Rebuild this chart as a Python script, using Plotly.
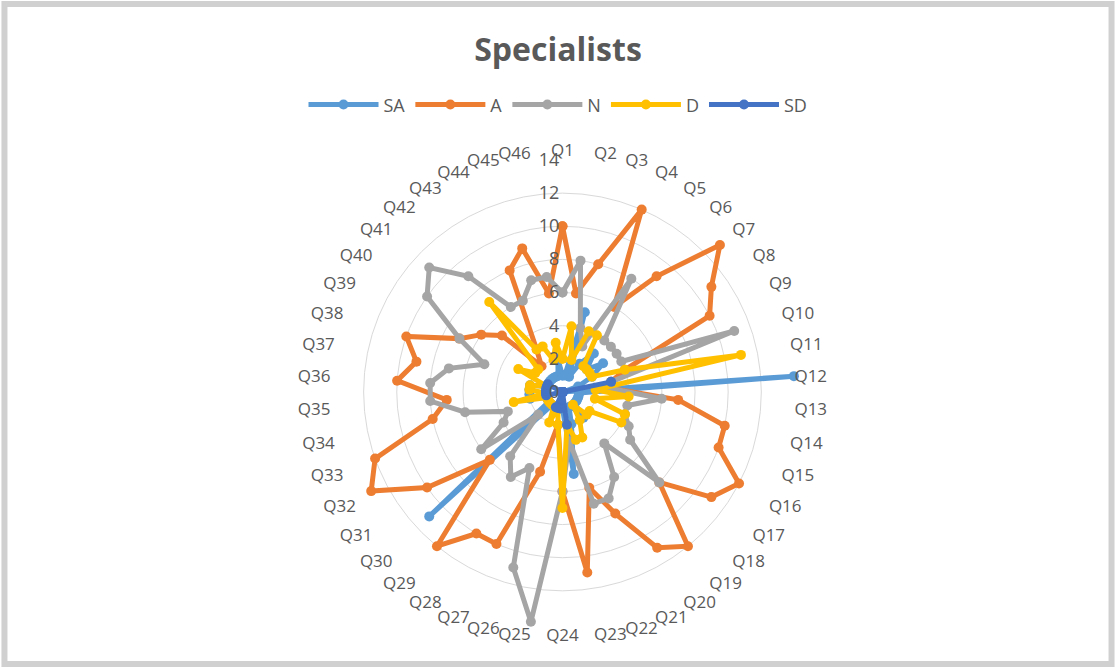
import plotly.graph_objects as go

categories = [f"Q{i}" for i in range(1, 47)]

SA = [1, 1, 5, 1, 2, 3, 2, 3, 2, 1, 0, 14, 1, 1, 1, 1, 1, 1, 2, 1, 1, 2, 5, 1,
      1, 1, 1, 1, 1, 11, 1, 1, 1, 2, 2, 2, 2, 1, 1, 1, 1, 1, 1, 1, 1, 2]
A = [10, 6, 8, 12, 6, 9, 13, 11, 10, 4, 3, 3, 7, 10, 10, 12, 11, 8, 12, 11, 8, 6, 11, 6,
     2, 5, 10, 10, 12, 6, 10, 13, 12, 8, 7, 10, 9, 10, 7, 6, 5, 2, 3, 8, 9, 6]
N = [6, 8, 4, 3, 8, 4, 4, 4, 4, 11, 3, 3, 6, 4, 4, 4.5, 5, 8, 4, 6, 7, 7, 3, 6,
     14, 11, 5, 6, 5, 2, 6, 4, 3.5, 6, 8, 8, 7, 5, 7, 10, 11, 9, 6, 6, 7, 7]
D = [2, 4, 2, 4, 4, 2, 2, 2, 2, 4, 11, 2, 4, 2, 4, 4, 2, 2, 1, 2, 3, 3, 2, 7,
     2, 1, 2, 1, 1, 1, 1, 1, 1, 3, 1, 2, 2, 1, 3, 2, 2, 7, 3, 3, 2, 3]
SD = [0, 0, 0, 0, 0, 0, 0, 0, 0, 0, 3, 0, 0, 0, 0, 0, 0, 0, 0, 0, 0, 0, 2, 0,
      1, 1, 1, 0, 0, 0, 0, 0, 0, 1, 1, 1, 1, 1, 1, 0, 0, 0, 0, 0, 0, 0]

series = [("SA", SA, "#5B9BD5"), ("A", A, "#ED7D31"), ("N", N, "#A5A5A5"),
          ("D", D, "#FFC000"), ("SD", SD, "#4472C4")]

fig = go.Figure()
for name, vals, col in series:
    fig.add_trace(go.Scatterpolar(
        r=vals + vals[:1], theta=categories + categories[:1], name=name,
        mode="lines+markers",
        line=dict(color=col, width=5),
        marker=dict(color=col, size=10),
    ))

txt = "#595959"
fig.update_layout(
    width=1116, height=668,
    margin=dict(l=0, r=0, t=0, b=0),
    paper_bgcolor="white",
    font=dict(family="Open Sans", color=txt, size=16),
    title=dict(text="Specialists", x=0.5, xanchor="center", y=0.925, yanchor="middle",
               font=dict(size=32, color=txt, family="Open Sans", weight="bold")),
    legend=dict(orientation="h", x=0.5, xanchor="center", y=0.843, yanchor="middle",
                font=dict(size=18, color=txt), itemwidth=70),
    polar=dict(
        domain=dict(x=[0.008, 1.0], y=[0.0659, 0.7605]),
        bgcolor="white",
        angularaxis=dict(direction="clockwise", rotation=90, showgrid=False,
                         showline=False, ticks="", tickfont=dict(size=17, color=txt)),
        radialaxis=dict(range=[0, 14], dtick=2, angle=90, side="counterclockwise",
                        tickangle=90,
                        showline=False, ticks="", gridcolor="#d9d9d9", gridwidth=1,
                        tickfont=dict(size=18, color=txt)),
    ),
    shapes=[dict(type="rect", xref="paper", yref="paper", x0=0.004, x1=0.996,
                 y0=0.006, y1=0.994, line=dict(color="#d0d0d0", width=6))],
)

fig.write_html("out.html")
